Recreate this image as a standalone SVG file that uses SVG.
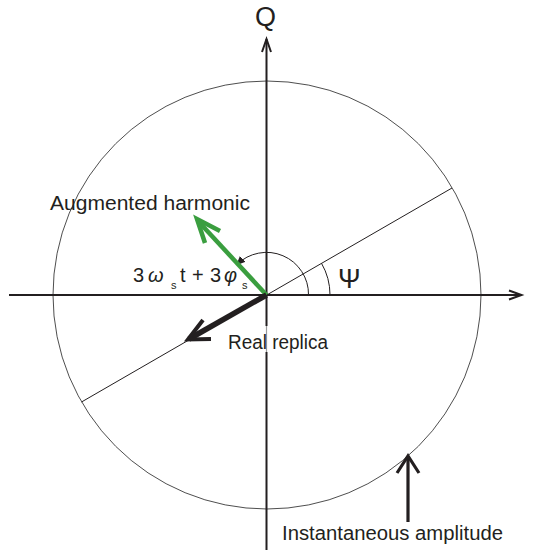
<svg xmlns="http://www.w3.org/2000/svg" width="533" height="554" viewBox="0 0 533 554">
<style>
text{font-family:"Myriad Pro","Liberation Sans",Arial,sans-serif;fill:#231f20}
.axis{stroke:#231f20;stroke-width:2;fill:none}
.thin{stroke:#231f20;stroke-width:1;fill:none}
</style>
<defs>
<marker id="tri" markerWidth="10" markerHeight="10" refX="8" refY="4" orient="auto" markerUnits="userSpaceOnUse">
<path d="M0,0 L9,4 L0,8 Z" fill="#231f20"/>
</marker>
</defs>
<rect width="533" height="554" fill="#fff"/>
<g id="circle"><circle cx="267" cy="295" r="214" fill="none" stroke="#3a3a3a" stroke-width="0.9"/></g>
<g id="connectors">
<line class="axis" x1="9" y1="295" x2="521" y2="295"/>
<polyline class="axis" points="509,290.5 521.5,295 509,299.5"/>
<line class="axis" x1="266.5" y1="39" x2="266.5" y2="550"/>
<polyline class="axis" points="262,52 266.5,39 271,52"/>
<line class="thin" x1="81.5" y1="402" x2="452" y2="188"/>
<path class="thin" d="M330,295 A63.3,63.3 0 0 0 321.5,263.3"/>
<path class="thin" d="M308.5,295 A42,42 0 0 0 237,264.5" marker-end="url(#tri)"/>
<line x1="266.5" y1="295" x2="198" y2="221" stroke="#3a9e3f" stroke-width="4.5"/>
<polyline points="220,231 197,219 205,243" fill="none" stroke="#3a9e3f" stroke-width="4.5"/>
<line x1="266.5" y1="295" x2="189" y2="339" stroke="#231f20" stroke-width="5.5"/>
<polyline points="203,320 188,339.5 211,339" fill="none" stroke="#231f20" stroke-width="4"/>
<line x1="408" y1="522" x2="408" y2="457" stroke="#231f20" stroke-width="3.2"/>
<polyline points="397,473 408,456 419,473" fill="none" stroke="#231f20" stroke-width="3.2"/>
</g>
<g id="label-q"><text x="255" y="26" font-size="27">Q</text></g>
<g id="label-psi"><text x="338" y="288" font-size="27">Ψ</text></g>
<g id="label-augmented"><text x="50" y="210" font-size="20" textLength="200" lengthAdjust="spacingAndGlyphs">Augmented harmonic</text></g>
<g id="label-angle"><text y="282" font-size="20"><tspan x="133">3</tspan><tspan x="148" font-style="italic">ω</tspan><tspan x="171" y="289" font-size="11">s</tspan><tspan x="180" y="282">t</tspan><tspan x="192">+</tspan><tspan x="210">3</tspan><tspan x="224" font-style="italic">φ</tspan><tspan x="242" y="289" font-size="11">s</tspan></text></g>
<g id="label-real"><rect x="264.5" y="326" width="4" height="26" fill="#fff"/><line x1="266.5" y1="326" x2="266.5" y2="352" stroke="#999" stroke-width="1.2"/><text x="228" y="349" font-size="20" textLength="100" lengthAdjust="spacingAndGlyphs">Real replica</text></g>
<g id="label-inst"><text x="282" y="540" font-size="20" textLength="221" lengthAdjust="spacingAndGlyphs">Instantaneous amplitude</text></g>
</svg>
